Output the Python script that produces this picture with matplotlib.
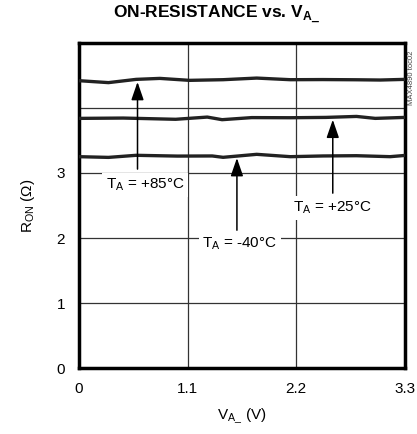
import matplotlib
matplotlib.use("Agg")
import matplotlib.pyplot as plt
from matplotlib import font_manager

# ── Data ──────────────────────────────────────────────────────────────────────
va_85 = [0.0, 0.30, 0.58, 0.82, 1.12, 1.46, 1.80, 2.14, 2.47, 2.81, 3.05, 3.30]
ron_85 = [4.42, 4.39, 4.44, 4.455, 4.425, 4.435, 4.46, 4.435, 4.437, 4.434, 4.43, 4.44]

va_25 = [0.0, 0.45, 0.98, 1.30, 1.45, 1.75, 2.14, 2.50, 2.81, 3.00, 3.30]
ron_25 = [3.84, 3.845, 3.826, 3.86, 3.82, 3.852, 3.85, 3.855, 3.87, 3.84, 3.855]

va_m40 = [0.0, 0.30, 0.58, 1.00, 1.35, 1.46, 1.80, 2.14, 2.47, 2.81, 3.15, 3.30]
ron_m40 = [3.251, 3.24, 3.272, 3.26, 3.262, 3.241, 3.287, 3.251, 3.262, 3.266, 3.251, 3.27]

x_ticks = [0, 1.1, 2.2, 3.3]
x_ticklabels = ["0", "1.1", "2.2", "3.3"]
y_grid = [1, 2, 3, 4]
y_ticks = [0, 1, 2, 3]

# annotations: label, label pos, arrow tail, arrow tip
labels = [
    ("T$_\\mathregular{A}$ = +85°C", (0.67, 2.82), (0.594, 3.06), (0.594, 4.40)),
    ("T$_\\mathregular{A}$ = -40°C", (1.63, 1.92), (1.60, 2.12), (1.60, 3.23)),
    ("T$_\\mathregular{A}$ = +25°C", (2.57, 2.46), (2.57, 2.69), (2.57, 3.82)),
]

# ── Fonts ─────────────────────────────────────────────────────────────────────
names = {f.name for f in font_manager.fontManager.ttflist}
narrow = "Liberation Sans Narrow" if "Liberation Sans Narrow" in names else "Liberation Sans"
plt.rcParams["font.family"] = [narrow, "DejaVu Sans"]
plt.rcParams["mathtext.fontset"] = "custom"
plt.rcParams["mathtext.rm"] = narrow

# ── Plot ──────────────────────────────────────────────────────────────────────
fig = plt.figure(figsize=(4.17, 4.34), dpi=100)
ax = fig.add_axes([0.189, 0.152, 0.782, 0.749])

ax.set_xlim(0, 3.3)
ax.set_ylim(0, 5)

for x in x_ticks[1:-1]:
    ax.axvline(x, color="#333333", lw=0.9, zorder=1)
for y in y_grid:
    ax.axhline(y, color="#333333", lw=0.9, zorder=1)

for xs, ys in [(va_85, ron_85), (va_25, ron_25), (va_m40, ron_m40)]:
    ax.plot(xs, ys, color="#222222", lw=2.4, zorder=3)

for text, lpos, tail, tip in labels:
    ax.annotate("", xy=tip, xytext=tail,
                arrowprops=dict(arrowstyle="-|>,head_length=1.1,head_width=0.38",
                                color="black", lw=1.1, shrinkA=0, shrinkB=0),
                zorder=4)
    ax.text(lpos[0], lpos[1], text, ha="center", va="center", fontsize=11,
            bbox=dict(boxstyle="square,pad=0.25", fc="white", ec="none"), zorder=5)

ax.set_xticks(x_ticks)
ax.set_xticklabels(x_ticklabels, fontsize=11)
ax.set_yticks(y_ticks)
ax.set_yticklabels([str(v) for v in y_ticks], fontsize=11)
ax.tick_params(length=0, pad=10)

for s in ax.spines.values():
    s.set_linewidth(2.5)

ax.set_xlabel("V$_\\mathregular{A\\_}$ (V)", fontsize=11, labelpad=8)
ax.set_ylabel("R$_\\mathregular{ON}$ (Ω)", fontsize=11, labelpad=14)

fig.text(0.52, 0.965, "ON-RESISTANCE vs. V$_\\mathregular{A\\_}$", ha="center",
         va="center", fontsize=12.5, fontweight="bold")
fig.text(0.988, 0.82, "MAX4890 toc02", rotation=90, ha="center", va="center",
         fontsize=5.5, color="#444444")

fig.savefig("out.png", dpi=100)
plt.close(fig)
